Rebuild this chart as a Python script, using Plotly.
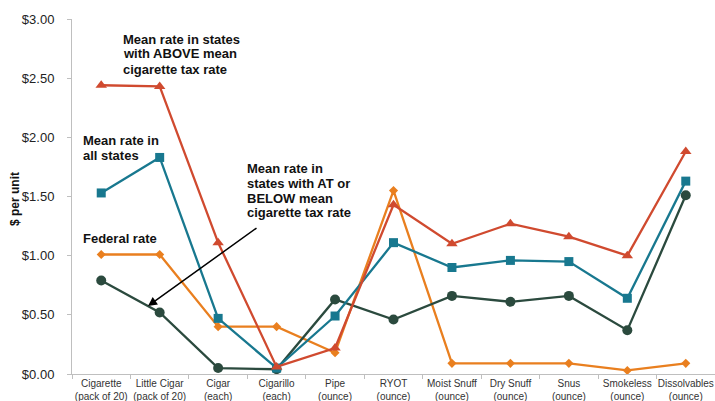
import plotly.graph_objects as go

# Tax rates by tobacco product, dollars per unit
categories = [
    "Cigarette<br>(pack of 20)", "Little Cigar<br>(pack of 20)", "Cigar<br>(each)",
    "Cigarillo<br>(each)", "Pipe<br>(ounce)", "RYOT<br>(ounce)", "Moist Snuff<br>(ounce)",
    "Dry Snuff<br>(ounce)", "Snus<br>(ounce)", "Smokeless<br>(ounce)", "Dissolvables<br>(ounce)",
]
above_mean = [2.44, 2.43, 1.11, 0.06, 0.22, 1.43, 1.10, 1.27, 1.16, 1.00, 1.88]
all_states = [1.53, 1.83, 0.47, 0.05, 0.49, 1.11, 0.90, 0.96, 0.95, 0.64, 1.63]
below_mean = [0.79, 0.52, 0.05, 0.04, 0.63, 0.46, 0.66, 0.61, 0.66, 0.37, 1.51]
federal = [1.01, 1.01, 0.40, 0.40, 0.18, 1.55, 0.09, 0.09, 0.09, 0.03, 0.09]

W, H = 715, 401
ML, MR, MT, MB = 72, 0, 19, 27
PW, PH = W - ML - MR, H - MT - MB


def px_x(px):
    return (px - ML) / PW


def px_y(py):
    return (H - MB - py) / PH


fig = go.Figure()

series = [
    (federal, "#E97F1F", "diamond", 7),
    (below_mean, "#2B4A3E", "circle", 10),
    (all_states, "#18788F", "square", 9),
    (above_mean, "#D04A2F", "triangle-up", 10),
]
for vals, color, symbol, size in series:
    fig.add_trace(go.Scatter(
        x=categories, y=vals, mode="lines+markers",
        line=dict(color=color, width=2.3),
        marker=dict(symbol=symbol, size=size, color=color),
        showlegend=False, hoverinfo="skip", cliponaxis=False,
    ))

label_font = dict(family="Liberation Sans, Arial, sans-serif", size=13, color="#111111")

text_blocks = [
    (121, 39, ["Mean rate in states", "with ABOVE mean", "cigarette tax rate"]),
    (81, 140, ["Mean rate in", "all states"]),
    (81, 238, ["Federal rate"]),
    (245, 168, ["Mean rate in", "states with AT or", "BELOW mean", "cigarette tax rate"]),
]
annotations = []
for left, first_y, lines in text_blocks:
    for i, line in enumerate(lines):
        annotations.append(dict(
            xref="paper", yref="paper", x=px_x(left), y=px_y(first_y + 15 * i),
            xanchor="left", yanchor="middle", text="<b>%s</b>" % line,
            showarrow=False, font=label_font,
        ))

# Arrow pointing at the below-mean series
annotations.append(dict(
    xref="paper", yref="paper", x=px_x(148), y=px_y(306),
    ax=258 - 148, ay=227 - 306, axref="pixel", ayref="pixel",
    text="", showarrow=True, arrowhead=2, arrowsize=1.2, arrowwidth=1.5,
    arrowcolor="#000000",
))

# Rotated y-axis title
annotations.append(dict(
    xref="paper", yref="paper", x=px_x(15), y=px_y(199),
    xanchor="center", yanchor="middle", textangle=-90,
    text="<b>$ per unit</b>", showarrow=False,
    font=dict(family="Liberation Sans, Arial, sans-serif", size=12, color="#111111"),
))

fig.update_layout(
    width=W, height=H,
    margin=dict(l=ML, r=MR, t=MT, b=MB, autoexpand=False),
    paper_bgcolor="white", plot_bgcolor="white",
    annotations=annotations,
    font=dict(family="Liberation Sans, Arial, sans-serif"),
)
fig.update_xaxes(
    type="category", showgrid=False, zeroline=False, automargin=False,
    showline=True, linecolor="#BFBFBF", linewidth=1,
    ticks="outside", tickson="boundaries", ticklen=4, tickcolor="#BFBFBF",
    tickangle=0, tickfont=dict(size=10, color="#333333"),
    range=[-0.5, len(categories) - 0.5],
)
fig.update_yaxes(
    range=[0, 3], dtick=0.5, tickformat="$.2f", automargin=False,
    showgrid=False, zeroline=False,
    showline=True, linecolor="#BFBFBF", linewidth=1,
    ticks="outside", ticklen=4, tickcolor="#BFBFBF",
    tickfont=dict(size=13, color="#222222"), ticklabelstandoff=10,
)

fig.write_html("out.html")
